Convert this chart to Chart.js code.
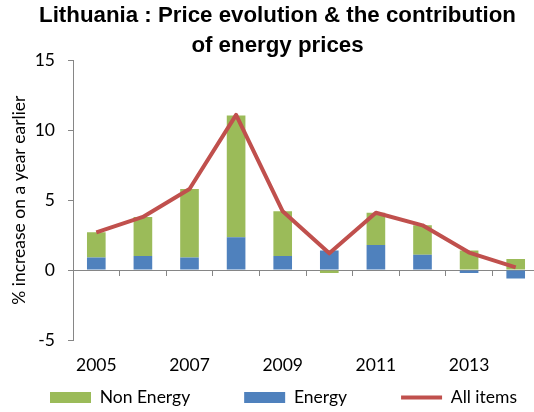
<!DOCTYPE html>
<html><head><meta charset="utf-8">
<script src="https://cdn.jsdelivr.net/npm/chart.js@4/dist/chart.umd.min.js"></script>
<style>html,body{margin:0;padding:0;overflow:hidden;background:#fff}</style>
</head><body>
<canvas id="c" width="600" height="412"></canvas>
<script>
const years = ['2005','2006','2007','2008','2009','2010','2011','2012','2013','2014'];
const tickYears = ['2005','2007','2009','2011','2013'];
const energy = [0.9, 1.0, 0.9, 2.35, 1.0, 1.4, 1.8, 1.1, -0.2, -0.6];
const nonEnergy = [1.8, 2.8, 4.9, 8.7, 3.2, -0.2, 2.3, 2.1, 1.4, 0.8];
const allItems = [2.7, 3.8, 5.8, 11.1, 4.2, 1.2, 4.1, 3.2, 1.25, 0.2];
const legendOrder = ['Non Energy', 'Energy', 'All items'];

const FONT = 'Lato';
const FS = 17.5;
const AXIS = '#868686';
const LEG_PAD = 54;

const placePlugin = {
  id: 'place',
  afterLayout(chart) {
    const t = chart.titleBlock;
    if (t) { const d = 277.5 - (t.left + t.right) / 2; t.left += d; t.right += d; }
    const l = chart.legend;
    if (l) {
      l.top = 397.5 - LEG_PAD - FS / 2; l.bottom = chart.height;
      const dx = 50 - (l.left + LEG_PAD); l.left += dx; l.right += dx;
    }
  }
};

new Chart(document.getElementById('c'), {
  data: {
    labels: years,
    datasets: [
      { type: 'line', label: 'All items', data: allItems, order: 0, stack: 'line',
        borderColor: '#C0504D', backgroundColor: '#C0504D', borderWidth: 4,
        pointRadius: 0, pointStyle: 'line', tension: 0, borderJoinStyle: 'round', xAxisID: 'x', yAxisID: 'y' },
      { type: 'bar', label: 'Energy', data: energy, order: 1, stack: 'bars',
        backgroundColor: '#4F81BD', pointStyle: 'rect', barPercentage: 0.4, categoryPercentage: 1.0, xAxisID: 'x', yAxisID: 'y' },
      { type: 'bar', label: 'Non Energy', data: nonEnergy, order: 2, stack: 'bars',
        backgroundColor: '#9BBB59', pointStyle: 'rect', barPercentage: 0.4, categoryPercentage: 1.0, xAxisID: 'x', yAxisID: 'y' }
    ]
  },
  options: {
    responsive: false,
    animation: false,
    devicePixelRatio: 1,
    layout: { padding: 0 },
    plugins: {
      tooltip: { enabled: false },
      title: {
        display: true,
        text: ['Lithuania : Price evolution & the contribution', 'of energy prices'],
        color: '#000',
        font: { family: 'Liberation Sans', size: 22.3, weight: 'bold', lineHeight: 1.33 },
        padding: { top: 1, bottom: 0 }
      },
      legend: {
        position: 'bottom',
        align: 'start',
        maxHeight: 32,
        labels: {
          usePointStyle: true, pointStyleWidth: 41, boxHeight: 11, padding: LEG_PAD,
          color: '#000', font: { family: FONT, size: FS },
          sort: (a, b) => legendOrder.indexOf(a.text) - legendOrder.indexOf(b.text)
        }
      }
    },
    scales: {
      x: {
        type: 'category', stacked: true, offset: true,
        grid: { display: false, drawTicks: false },
        border: { display: false },
        ticks: {
          autoSkip: false, maxRotation: 0, minRotation: 0, color: '#000',
          font: { family: FONT, size: FS }, padding: 15,
          callback(v) { const l = this.getLabelForValue(v); return tickYears.includes(l) ? l : ''; }
        },
        afterFit(s) { s.height = 40; }
      },
      x2: {
        type: 'category', labels: years, position: { y: 0 }, offset: true,
        grid: { offset: true, drawOnChartArea: false, drawTicks: true, tickLength: 5, color: AXIS },
        border: { color: AXIS, width: 1 },
        ticks: { display: false }
      },
      y: {
        type: 'linear', stacked: true, min: -5, max: 15,
        ticks: { stepSize: 5, color: '#000', font: { family: FONT, size: FS }, padding: 13 },
        grid: { drawOnChartArea: false, drawTicks: true, tickLength: 5, color: AXIS },
        border: { color: AXIS, width: 1 },
        title: { display: true, text: '% increase on a year earlier', color: '#000',
                 font: { family: FONT, size: FS }, padding: { top: 9, bottom: 2 } },
        afterFit(s) { s.width = 73; }
      },
      yR: {
        type: 'linear', position: 'right', display: true,
        grid: { display: false, drawTicks: false }, border: { display: false },
        ticks: { display: false },
        afterFit(s) { s.width = 600 - 539; }
      }
    }
  },
  plugins: [placePlugin]
});
</script>
</body></html>
